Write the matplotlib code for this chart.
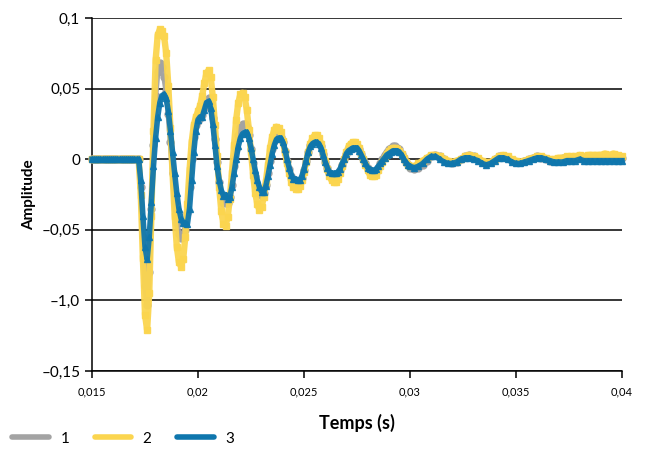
import numpy as np
import matplotlib
matplotlib.use("Agg")
import matplotlib.pyplot as plt
from matplotlib.lines import Line2D

plt.rcParams['font.family'] = ['Lato', 'DejaVu Sans']

# Time base: 0.1 ms steps up to 30 ms, then 0.2 ms steps to 40 ms
t_head = np.round(np.arange(0.0150, 0.02999, 0.0001), 5)
t_tail = np.round(np.arange(0.0300, 0.04001, 0.0002), 5)
time = np.concatenate([t_head, t_tail])

series_names = ['1', '2', '3']

amp_1 = [
    0, 0, 0, 0, 0, 0, 0, 0, 0, 0, 0, 0, 0, 0, 0, 0, 0, 0, 0, 0, 0, 0, 0,
    -0.02, -0.055, -0.09, -0.103, -0.08, -0.035, 0.01, 0.045, 0.062, 0.068,
    0.065, 0.058, 0.048, 0.032, 0.012, -0.01, -0.03, -0.045, -0.053, -0.056,
    -0.055, -0.05, -0.038, -0.02, 0.0, 0.016, 0.024, 0.027, 0.029, 0.031,
    0.036, 0.041, 0.043, 0.039, 0.029, 0.014, -0.002, -0.016, -0.026, -0.031,
    -0.031, -0.031, -0.027, -0.018, -0.005, 0.007, 0.017, 0.023, 0.025, 0.025,
    0.023, 0.017, 0.007, -0.003, -0.012, -0.019, -0.024, -0.026, -0.024, -0.018,
    -0.010, -0.001, 0.007, 0.013, 0.016, 0.017, 0.016, 0.012, 0.006, -0.001,
    -0.007, -0.012, -0.015, -0.016, -0.017, -0.016, -0.013, -0.008, -0.001, 0.005,
    0.010, 0.012, 0.013, 0.013, 0.012, 0.009, 0.004, -0.002, -0.006, -0.010,
    -0.011, -0.012, -0.012, -0.010, -0.008, -0.004, 0.0, 0.004, 0.007, 0.009,
    0.010, 0.010, 0.009, 0.007, 0.004, 0.0, -0.003, -0.006, -0.009, -0.010,
    -0.010, -0.009, -0.006, -0.003, 0.0, 0.003, 0.005, 0.007, 0.008, 0.009,
    0.009, 0.008, 0.007, 0.004, 0.001, -0.002, -0.004,
    -0.006, -0.007, -0.006, -0.004, -0.001, 0.002, 0.003, 0.002, 0.0, -0.002,
    -0.003, -0.002, 0.0, 0.002, 0.003, 0.002, 0.0, -0.002, -0.003, -0.002,
    0.0, 0.002, 0.002, 0.001, -0.001, -0.002, -0.002, -0.001, 0.0, 0.001,
    0.002, 0.001, 0.0, -0.001, -0.001, 0.0, 0.001, 0.001, 0.001, 0.001,
    0.001, 0.001, 0.001, 0.001, 0.001, 0.001, 0.001, 0.001, 0.001, 0.001, 0.001,
]

amp_2 = [
    0, 0, 0, 0, 0, 0, 0, 0, 0, 0, 0, 0, 0, 0, 0, 0, 0, 0, 0, 0, 0, 0, 0,
    -0.025, -0.07, -0.11, -0.121, -0.095, -0.04, 0.02, 0.07, 0.088, 0.092,
    0.091, 0.087, 0.075, 0.052, 0.022, -0.01, -0.04, -0.062, -0.073, -0.076,
    -0.071, -0.055, -0.032, -0.008, 0.012, 0.024, 0.03, 0.034, 0.038, 0.045,
    0.054, 0.061, 0.063, 0.058, 0.044, 0.024, 0.002, -0.02, -0.037, -0.046,
    -0.047, -0.041, -0.028, -0.01, 0.01, 0.028, 0.04, 0.046, 0.047, 0.044,
    0.035, 0.021, 0.005, -0.011, -0.024, -0.032, -0.036, -0.034, -0.027, -0.016,
    -0.004, 0.008, 0.016, 0.021, 0.023, 0.022, 0.019, 0.013, 0.005, -0.003,
    -0.010, -0.016, -0.020, -0.021, -0.021, -0.019, -0.015, -0.009, -0.002, 0.005,
    0.011, 0.015, 0.017, 0.017, 0.015, 0.011, 0.005, -0.001, -0.007, -0.012,
    -0.015, -0.016, -0.016, -0.014, -0.010, -0.005, 0.0, 0.005, 0.009, 0.011,
    0.012, 0.012, 0.011, 0.008, 0.004, 0.0, -0.004, -0.008, -0.011, -0.012,
    -0.012, -0.011, -0.008, -0.005, -0.002, 0.001, 0.004, 0.006, 0.007, 0.008,
    0.008, 0.007, 0.006, 0.004, 0.001, -0.002, -0.004,
    -0.005, -0.005, -0.003, -0.001, 0.001, 0.003, 0.003, 0.002, 0.0, -0.001,
    -0.002, -0.001, 0.0, 0.002, 0.003, 0.002, 0.001, -0.001, -0.002, -0.002,
    0.0, 0.002, 0.003, 0.002, 0.0, -0.001, -0.002, -0.001, 0.0, 0.001,
    0.002, 0.002, 0.001, 0.0, 0.0, 0.001, 0.001, 0.002, 0.002, 0.002,
    0.003, 0.002, 0.003, 0.003, 0.003, 0.003, 0.004, 0.003, 0.004, 0.003, 0.002,
]

amp_3 = [
    0, 0, 0, 0, 0, 0, 0, 0, 0, 0, 0, 0, 0, 0, 0, 0, 0, 0, 0, 0, 0, 0, 0,
    -0.015, -0.04, -0.062, -0.071, -0.055, -0.03, -0.005, 0.015, 0.03, 0.04,
    0.045, 0.046, 0.043, 0.034, 0.02, 0.005, -0.01, -0.024, -0.035, -0.042,
    -0.045, -0.045, -0.046, -0.035, -0.015, 0.005, 0.02, 0.028, 0.03, 0.03,
    0.035, 0.040, 0.041, 0.036, 0.025, 0.01, -0.005, -0.015, -0.022, -0.026,
    -0.025, -0.028, -0.027, -0.02, -0.01, 0.0, 0.009, 0.015, 0.018, 0.019,
    0.019, 0.015, 0.008, 0.0, -0.008, -0.015, -0.02, -0.023, -0.023, -0.019,
    -0.012, -0.004, 0.004, 0.01, 0.014, 0.015, 0.015, 0.012, 0.007, 0.0,
    -0.006, -0.011, -0.014, -0.014, -0.015, -0.015, -0.012, -0.007, -0.001, 0.005,
    0.009, 0.011, 0.012, 0.012, 0.011, 0.008, 0.003, -0.002, -0.006, -0.009,
    -0.010, -0.010, -0.010, -0.009, -0.007, -0.003, 0.0, 0.004, 0.006, 0.007,
    0.008, 0.008, 0.008, 0.006, 0.003, 0.0, -0.003, -0.006, -0.007, -0.008,
    -0.008, -0.007, -0.005, -0.003, -0.001, 0.001, 0.003, 0.004, 0.005, 0.006,
    0.006, 0.006, 0.005, 0.003, 0.0, -0.002, -0.004,
    -0.005, -0.006, -0.005, -0.003, 0.0, 0.002, 0.002, 0.0, -0.002, -0.003,
    -0.003, -0.002, 0.0, 0.001, 0.001, 0.0, -0.001, -0.003, -0.004, -0.003,
    -0.001, 0.001, 0.001, 0.0, -0.002, -0.003, -0.003, -0.002, -0.001, 0.0,
    0.001, 0.001, 0.0, -0.001, -0.002, -0.002, -0.002, -0.001, -0.001, -0.001,
    0.0, -0.001, -0.001, -0.001, -0.001, -0.001, -0.001, -0.001, -0.001, -0.001, -0.001,
]

colors = {'1': '#a3a3a3', '2': '#fbd54f', '3': '#0f76ad'}
markers = {'1': 'o', '2': 's', '3': '^'}
widths = {'1': 4.0, '2': 4.6, '3': 4.0}

y_ticks = [0.1, 0.05, 0.0, -0.05, -0.1, -0.15]
y_tick_labels = ['0,1', '0,05', '0', '\u20130,05', '\u20131,0', '\u20130,15']
x_ticks = [0.015, 0.02, 0.025, 0.03, 0.035, 0.04]
x_tick_labels = ['0,015', '0,02', '0,025', '0,03', '0,035', '0,04']

fig = plt.figure(figsize=(6.45, 4.53), dpi=100)
ax = fig.add_axes([92 / 645, 1 - 371 / 453, 530 / 645, 353 / 453])

data = {'1': amp_1, '2': amp_2, '3': amp_3}
for z, name in enumerate(series_names):
    c = colors[name]
    ax.plot(time, data[name], color=c, lw=widths[name], marker=markers[name],
            ms=5.0, mec=c, mfc=c, alpha=0.95, zorder=3 + z, clip_on=False)

ax.set_xlim(0.015, 0.04)
ax.set_ylim(-0.15, 0.1)
ax.set_yticks(y_ticks)
ax.set_yticklabels(y_tick_labels, fontsize=11)
ax.set_xticks(x_ticks)
ax.set_xticklabels(x_tick_labels, fontsize=8)

for yv in y_ticks:
    ax.axhline(yv, color='black', lw=1.1, zorder=1)

for s in ['top', 'right']:
    ax.spines[s].set_visible(False)
for s in ['left', 'bottom']:
    ax.spines[s].set_color('black')
    ax.spines[s].set_linewidth(1.1)
ax.tick_params(axis='both', direction='out', length=5, width=1.1, color='black')
ax.tick_params(axis='x', pad=6)

ax.set_xlabel('Temps (s)', fontsize=13, fontweight='bold', labelpad=12)
ax.set_ylabel('Amplitude', fontsize=11, fontweight='bold', labelpad=4)

handles = [Line2D([0], [0], color=colors[n], lw=4, solid_capstyle='round')
           for n in series_names]
fig.legend(handles, series_names, loc='lower left', bbox_to_anchor=(-0.002, -0.014),
           ncol=3, frameon=False, fontsize=11, handlelength=2.4,
           columnspacing=1.65, handletextpad=0.75)

fig.savefig('out.png', dpi=100)
